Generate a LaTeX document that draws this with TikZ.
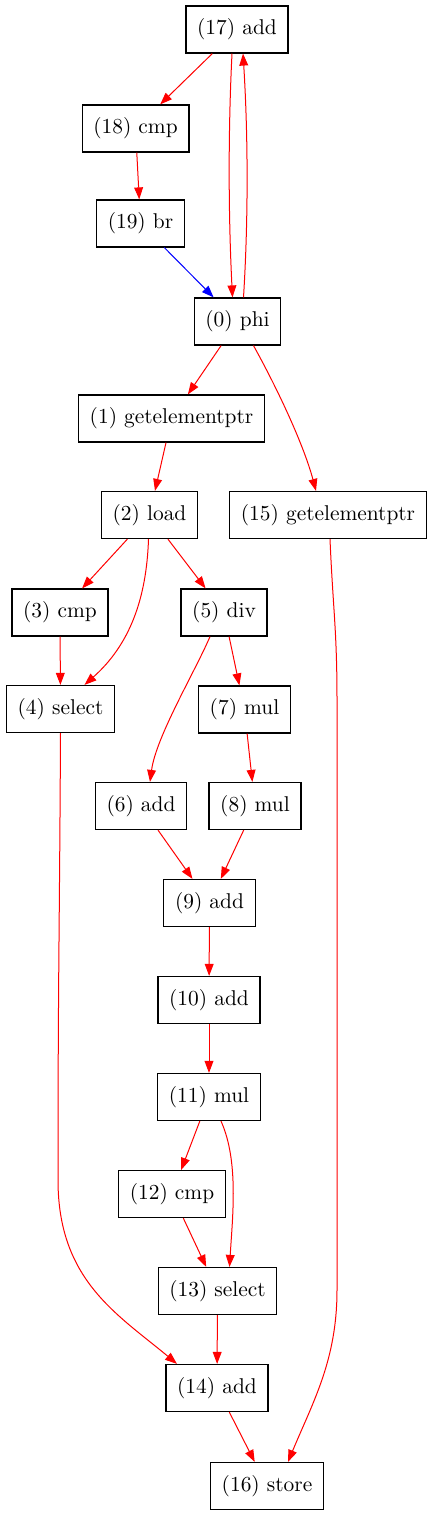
\documentclass[tikz,border=0pt]{standalone}
\usetikzlibrary{arrows.meta}

\begin{document}
\begin{tikzpicture}[x=0.5pt,y=-0.5pt,
  op/.style={draw,line width=0.6pt,rectangle,minimum height=23.5pt,inner xsep=5.6pt,
    font=\fontsize{10.7}{12}\selectfont},
  edge/.style={red,line width=0.5pt,-{Triangle[length=6pt,width=4.4pt]}},
  ctrl/.style={edge,blue}]

\useasboundingbox (0,0) rectangle (434,1520);

% draw nodes
\node[op] (n17) at (237,29.5) {(17) add};
\node[op] (n18) at (135.5,128.5) {(18) cmp};
\node[op] (n19) at (140.5,223.5) {(19) br};
\node[op] (n0) at (237.5,321.5) {(0) phi};
\node[op] (n1) at (171.5,418.5) {(1) getelementptr};
\node[op] (n2) at (149.5,515) {(2) load};
\node[op] (n15) at (328,515) {(15) getelementptr};
\node[op] (n3) at (60,612.5) {(3) cmp};
\node[op] (n5) at (224,612.5) {(5) div};
\node[op] (n4) at (60.5,709) {(4) select};
\node[op] (n7) at (244.5,709.5) {(7) mul};
\node[op] (n6) at (141,806) {(6) add};
\node[op] (n8) at (255,806) {(8) mul};
\node[op] (n9) at (209.5,903) {(9) add};
\node[op] (n10) at (209,1000) {(10) add};
\node[op] (n11) at (209,1097) {(11) mul};
\node[op] (n12) at (172,1194) {(12) cmp};
\node[op] (n13) at (217.5,1291) {(13) select};
\node[op] (n14) at (217,1388) {(14) add};
\node[op] (n16) at (267,1486) {(16) store};

% draw edges
\draw[edge] (n17) -- (n18);
\draw[edge] (n18) -- (n19);
\draw[ctrl] (n19) -- (n0);
\draw[edge] ([xshift=-2.5pt]n17.south) .. controls +(-4,80) and +(-4,-80) .. ([xshift=-2.5pt]n0.north);
\draw[edge] ([xshift=3pt]n0.north) .. controls +(5,-80) and +(5,80) .. ([xshift=3pt]n17.south);
\draw[edge] (n0) -- (n1);
\draw[edge] ([xshift=8pt]n0.south) .. controls +(25,45) and +(-12,-45) .. ([xshift=-6pt]n15.north);
\draw[edge] (n1) -- (n2);
\draw[edge] (n2) -- (n3);
\draw[edge] ([xshift=-0.5pt]n2.south) .. controls +(-2,60) and +(45,-40) .. ([xshift=12pt]n4.north);
\draw[edge] (n2) -- (n5);
\draw[edge] (n3) -- (n4);
\draw[edge] ([xshift=-7pt]n5.south) .. controls +(-15,35) and +(6,-45) .. ([xshift=4.5pt]n6.north);
\draw[edge] (n5) -- (n7);
\draw[edge] (n7) -- (n8);
\draw[edge] (n6) -- (n9);
\draw[edge] (n8) -- (n9);
\draw[edge] (n9) -- (n10);
\draw[edge] (n10) -- (n11);
\draw[edge] (n11) -- (n12);
\draw[edge] ([xshift=6pt]n11.south) .. controls +(18,40) and +(3,-50) .. ([xshift=6pt]n13.north);
\draw[edge] (n12) -- (n13);
\draw[edge] (n13) -- (n14);
\draw[edge] (n4.south) .. controls +(-1,200) and +(0,-200) .. (58,1180) .. controls +(0,100) and +(-60,-50) .. ([xshift=-20pt]n14.north);
\draw[edge] (n14) -- (n16);
\draw[edge] ([xshift=1pt]n15.south) .. controls +(3,70) and +(0,-70) .. (337,700) -- (337,1290) .. controls +(0,70) and +(25,-60) .. ([xshift=10.5pt]n16.north);

\end{tikzpicture}
\end{document}
